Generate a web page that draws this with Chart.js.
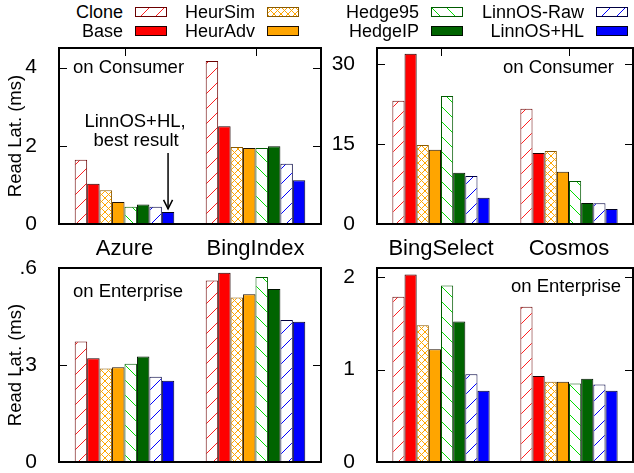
<!DOCTYPE html>
<html>
<head>
<meta charset="utf-8">
<script src="https://cdn.jsdelivr.net/npm/chart.js@4.4.1/dist/chart.umd.min.js"></script>
<style>
  html, body { margin: 0; padding: 0; background: #fff; }
  #wrap { position: relative; width: 634px; height: 473px; overflow: hidden;
          font-family: "Liberation Sans", Arial, sans-serif; color: #000; }
  .panel { position: absolute; }
  .lg-text { position: absolute; width: 200px; font-size: 18px; line-height: 18px;
             text-align: right; white-space: nowrap; }
  .lg-box { position: absolute; }
</style>
</head>
<body>
<div id="wrap">
  <canvas class="panel" id="c-tl" width="322" height="240" style="left:0;top:30px"></canvas>
  <canvas class="panel" id="c-tr" width="314" height="240" style="left:320px;top:30px"></canvas>
  <canvas class="panel" id="c-bl" width="322" height="218" style="left:0;top:255px"></canvas>
  <canvas class="panel" id="c-br" width="314" height="218" style="left:320px;top:255px"></canvas>
  <div id="legend"></div>
</div>
<script>
"use strict";

// ---- data (read latency, ms) ----
const series = ["Clone", "Base", "HeurSim", "HeurAdv", "Hedge95", "HedgeIP", "LinnOS-Raw", "LinnOS+HL"];
const leftCats = ["Azure", "BingIndex"];
const rightCats = ["BingSelect", "Cosmos"];

const consAzure = [1.64, 1.03, 0.86, 0.56, 0.44, 0.50, 0.44, 0.31];
const consBingIndex = [4.17, 2.50, 1.97, 1.94, 1.94, 1.99, 1.54, 1.12];
const consBingSelect = [23.1, 31.9, 14.8, 13.9, 24.0, 9.6, 9.0, 4.9];
const consCosmos = [21.6, 13.3, 13.7, 9.8, 8.05, 3.96, 3.9, 2.83];

const entAzure = [0.373, 0.321, 0.289, 0.293, 0.304, 0.326, 0.264, 0.251];
const entBingIndex = [0.561, 0.585, 0.509, 0.519, 0.572, 0.535, 0.439, 0.434];
const entBingSelect = [1.79, 2.03, 1.48, 1.22, 1.91, 1.52, 0.95, 0.77];
const entCosmos = [1.68, 0.93, 0.87, 0.87, 0.85, 0.90, 0.84, 0.77];

const consLeftTicks = [0, 2, 4];
const consRightTicks = [0, 15, 30];
const entLeftTicks = [0, 0.3, 0.6];
const entLeftTickLabels = ["0", ".3", ".6"];
const entRightTicks = [0, 1, 2];

// ---- styles ----
const FONT = '"Liberation Sans", Arial, sans-serif';
const styles = [
  { hatch: "/", line: "#ff2020", border: "#6a0000", size: 15 },
  { fill: "#ff0000", border: "#200000" },
  { hatch: "x", line: "#ffa500", border: "#8a5a00", size: 7 },
  { fill: "#ffa500", border: "#201000" },
  { hatch: "\\", line: "#00dd00", border: "#005a00", size: 15 },
  { fill: "#006400", border: "#001000" },
  { hatch: "/", line: "#0000ff", border: "#000040", size: 15 },
  { fill: "#0000ff", border: "#000020" },
];

function makePattern(ctx, st) {
  const s = st.size;
  const tile = document.createElement("canvas");
  tile.width = s;
  tile.height = s;
  const g = tile.getContext("2d");
  g.fillStyle = "#fff";
  g.fillRect(0, 0, s, s);
  g.strokeStyle = st.line;
  g.lineWidth = 1;
  g.beginPath();
  if (st.hatch === "/" || st.hatch === "x") {
    g.moveTo(-1, s + 1);
    g.lineTo(s + 1, -1);
  }
  if (st.hatch === "\\" || st.hatch === "x") {
    g.moveTo(-1, -1);
    g.lineTo(s + 1, s + 1);
  }
  g.stroke();
  return ctx.createPattern(tile, "repeat");
}

function fillFor(ctx, i) {
  const st = styles[i];
  return st.hatch ? makePattern(ctx, st) : st.fill;
}

// ---- frame, inward ticks, notes ----
function seg(ctx, x1, y1, x2, y2) {
  ctx.beginPath();
  ctx.moveTo(x1, y1);
  ctx.lineTo(x2, y2);
  ctx.stroke();
}

const framePlugin = {
  id: "frame",
  afterDatasetsDraw(chart, args, opts) {
    const { ctx, chartArea: a } = chart;
    const x = chart.scales.x;
    const y = chart.scales.y;
    ctx.save();
    ctx.strokeStyle = "#000";
    ctx.lineWidth = 1;
    y.ticks.forEach((t) => {
      const py = Math.round(y.getPixelForValue(t.value)) + 0.5;
      seg(ctx, a.left, py, a.left + 8, py);
      seg(ctx, a.right - 8, py, a.right, py);
    });
    if (opts.topTicks) {
      x.ticks.forEach((t, i) => {
        const px = Math.round(x.getPixelForTick(i)) + 0.5;
        seg(ctx, px, a.top, px, a.top + 8);
      });
    }
    ctx.lineWidth = 2;
    ctx.strokeRect(a.left, a.top, a.right - a.left, a.bottom - a.top);

    ctx.fillStyle = "#000";
    ctx.font = "18.5px " + FONT;
    ctx.textBaseline = "middle";
    if (opts.note) {
      if (opts.noteAlign === "right") {
        ctx.textAlign = "right";
        ctx.fillText(opts.note, a.right - opts.dx, a.top + opts.dy);
      } else {
        ctx.textAlign = "left";
        ctx.fillText(opts.note, a.left + opts.dx, a.top + opts.dy);
      }
    }
    if (opts.arrow) {
      const bar = chart.getDatasetMeta(series.length - 1).data[0];
      const bx = bar.x;
      const by = bar.y;
      ctx.textAlign = "center";
      ctx.fillText("LinnOS+HL,", bx - 33, by - 90);
      ctx.fillText("best result", bx - 32, by - 71);
      ctx.lineWidth = 1.5;
      seg(ctx, bx, by - 59, bx, by - 3);
      ctx.beginPath();
      ctx.moveTo(bx - 4.5, by - 12);
      ctx.lineTo(bx, by - 3);
      ctx.lineTo(bx + 4.5, by - 12);
      ctx.stroke();
    }
    ctx.restore();
  },
};

function makeChart(id, cfg) {
  const canvas = document.getElementById(id);
  const ctx = canvas.getContext("2d");
  const datasets = series.map((name, i) => ({
    label: name,
    data: [cfg.first[i], cfg.second[i]],
    backgroundColor: fillFor(ctx, i),
    borderColor: styles[i].border,
    borderWidth: 1,
    borderSkipped: "bottom",
    categoryPercentage: 0.76,
    barPercentage: 1.0,
  }));

  return new Chart(canvas, {
    type: "bar",
    data: { labels: cfg.labels, datasets },
    plugins: [framePlugin],
    options: {
      responsive: false,
      animation: false,
      events: [],
      layout: { padding: { top: cfg.padTop, right: 1, bottom: cfg.padBottom, left: 0 } },
      plugins: {
        legend: { display: false },
        tooltip: { enabled: false },
        frame: cfg.frame,
      },
      scales: {
        x: {
          display: cfg.showCats,
          grid: { display: false },
          border: { display: false },
          ticks: {
            color: "#000",
            padding: 4,
            maxRotation: 0,
            font: { family: FONT, size: 22 },
          },
          afterFit(scale) {
            if (cfg.showCats) scale.height = 46;
            scale.paddingLeft = 0;
            scale.paddingRight = 0;
          },
        },
        y: {
          min: 0,
          max: cfg.max,
          grid: { display: false },
          border: { display: false },
          title: {
            display: cfg.showTitle,
            text: "Read Lat. (ms)",
            color: "#000",
            padding: { top: 5, bottom: 0 },
            font: { family: FONT, size: 18.5 },
          },
          ticks: {
            color: "#000",
            padding: 14,
            font: { family: FONT, size: 21 },
            callback: (v, i) => cfg.tickLabels[i],
          },
          afterBuildTicks(scale) {
            scale.ticks = cfg.ticks.map((v) => ({ value: v }));
          },
          afterFit(scale) {
            scale.width = cfg.axisWidth;
            scale.paddingTop = 0;
            scale.paddingBottom = 0;
          },
        },
      },
    },
  });
}

Chart.defaults.font.family = FONT;
Chart.defaults.color = "#000";

makeChart("c-tl", {
  labels: leftCats, first: consAzure, second: consBingIndex,
  max: 4.5, ticks: consLeftTicks, tickLabels: consLeftTicks.map(String),
  showCats: true, showTitle: true, axisWidth: 59, padTop: 18, padBottom: 0,
  frame: { topTicks: true, note: "on Consumer", noteAlign: "left", dx: 14, dy: 20, arrow: true },
});
makeChart("c-tr", {
  labels: rightCats, first: consBingSelect, second: consCosmos,
  max: 33, ticks: consRightTicks, tickLabels: consRightTicks.map(String),
  showCats: true, showTitle: false, axisWidth: 57, padTop: 18, padBottom: 0,
  frame: { topTicks: true, note: "on Consumer", noteAlign: "right", dx: 19, dy: 20 },
});
makeChart("c-bl", {
  labels: leftCats, first: entAzure, second: entBingIndex,
  max: 0.6, ticks: entLeftTicks, tickLabels: entLeftTickLabels,
  showCats: false, showTitle: true, axisWidth: 59, padTop: 13, padBottom: 11,
  frame: { topTicks: false, note: "on Enterprise", noteAlign: "left", dx: 14, dy: 24 },
});
makeChart("c-br", {
  labels: rightCats, first: entBingSelect, second: entCosmos,
  max: 2.1, ticks: entRightTicks, tickLabels: entRightTicks.map(String),
  showCats: false, showTitle: false, axisWidth: 57, padTop: 13, padBottom: 11,
  frame: { topTicks: false, note: "on Enterprise", noteAlign: "right", dx: 12, dy: 19 },
});

// ---- legend (2 rows x 4 columns) ----
const legendTextRight = [123, 255, 419, 584];
const legendRowY = [12, 31];
const legendEl = document.getElementById("legend");
series.forEach((name, i) => {
  const col = Math.floor(i / 2);
  const row = i % 2;
  const txt = document.createElement("div");
  txt.className = "lg-text";
  txt.textContent = name;
  txt.style.left = legendTextRight[col] - 200 + "px";
  txt.style.top = legendRowY[row] - 9 + "px";
  legendEl.appendChild(txt);

  const box = document.createElement("canvas");
  box.className = "lg-box";
  box.width = 32;
  box.height = 10;
  box.style.left = legendTextRight[col] + 12 + "px";
  box.style.top = legendRowY[row] - 5 + "px";
  const g = box.getContext("2d");
  g.fillStyle = fillFor(g, i);
  g.fillRect(0, 0, 32, 10);
  g.strokeStyle = styles[i].border;
  g.lineWidth = 1;
  g.strokeRect(0.5, 0.5, 31, 9);
  legendEl.appendChild(box);
});
</script>
</body>
</html>
